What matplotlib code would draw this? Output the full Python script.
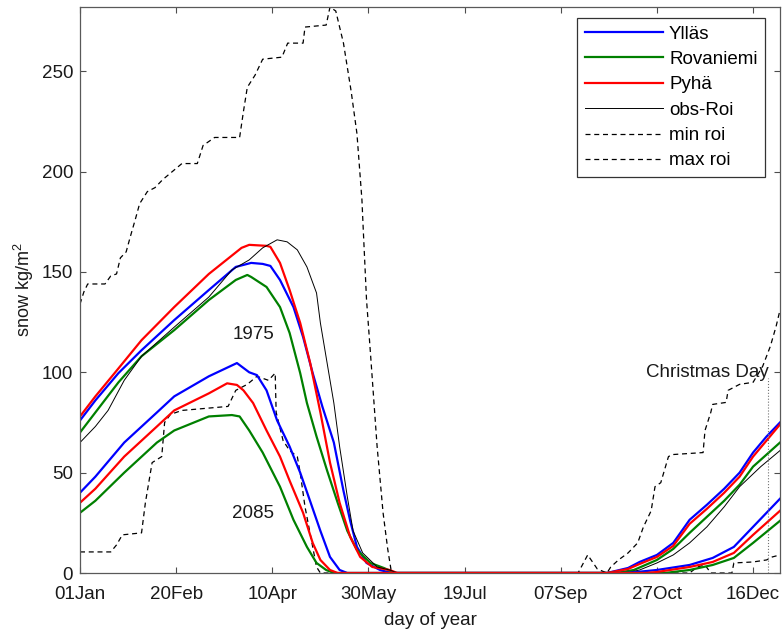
import matplotlib
matplotlib.use('Agg')
import matplotlib.pyplot as plt

plt.rcParams['font.family'] = ['Liberation Sans', 'DejaVu Sans']
plt.rcParams['mathtext.fontset'] = 'custom'
plt.rcParams['mathtext.rm'] = 'Liberation Sans'
plt.rcParams['mathtext.it'] = 'Liberation Sans'

# x tick positions (day of a leap year) and their labels
tick_days = [1, 51, 101, 151, 201, 251, 301, 351]
tick_labels = ['01Jan', '20Feb', '10Apr', '30May', '19Jul', '07Sep', '27Oct', '16Dec']

# 1975 runs
yllas_days = [1, 9, 21, 33, 50, 68, 82, 90, 96, 100, 105, 112, 117, 122, 127, 133, 138, 141.5, 145, 150, 157, 163,
              275, 286, 292, 301, 309.5, 318, 327, 336, 344, 351, 358, 365]
yllas_snow = [76, 86, 99.6, 111, 126, 141, 152.5, 154.5, 154, 153, 146, 132.5, 117.6, 99.6, 83, 65, 41, 26, 13, 5, 1.5, 0,
              0, 2.5, 5.5, 9, 15, 26.5, 34, 42, 50, 60, 68, 75]

rova_days = [1, 9, 21, 33, 50, 68, 82, 88, 90, 98, 105, 110, 115.5, 119, 124, 129.5, 135, 140, 145, 152, 159, 165,
             280, 289, 301, 309.5, 318, 327, 336, 344, 351, 358, 365]
rova_snow = [70, 80, 95, 108, 121, 136, 146, 148.5, 147.5, 142.5, 132.5, 119.6, 99.6, 84.7, 68, 51, 35, 21, 11.5, 5, 2.5, 0,
             0, 1.5, 6.5, 12, 20, 28, 36, 44, 53, 59, 65]

pyha_days = [1, 9, 19, 33, 50, 68, 85, 89, 98, 100, 105, 110, 115.5, 120.7, 126, 131, 136, 141.5, 146.7, 153, 162, 166,
             275, 286, 292, 301, 309.5, 318, 327, 336, 344, 351, 358, 365]
pyha_snow = [78, 88, 99.6, 116, 132.5, 149, 162, 163.5, 163, 162.5, 154.5, 141, 124.6, 104.6, 80, 55, 35, 18, 8, 3, 1.5, 0,
             0, 2, 4.5, 8, 13.5, 24.5, 32, 40, 48, 58, 66, 74]

# observations at Rovaniemi
obs_days = [1, 9, 15.6, 24, 33, 50, 68, 80, 89, 96, 103.5, 108.7, 114, 119, 124, 126, 129.5, 133, 136, 140, 143, 148,
            155.5, 162, 166, 285, 292, 301, 309.5, 318, 327, 336, 344, 355, 365]
obs_snow = [65, 73, 81, 96, 108, 122.5, 137.5, 151, 156, 162, 166, 165, 161, 152.5, 139.5, 124.6, 104.6, 84.7, 63, 38, 21, 10,
            3, 1.5, 0, 0, 1.5, 5, 9, 15, 23, 33, 43, 53, 61]

min_days = [1, 17, 20, 23, 33, 35, 38.5, 43.5, 45, 48, 54, 78, 82, 88, 93, 99, 102.5, 103, 106.6, 110, 114, 115.5, 118,
            120.6, 124, 126, 318, 322, 326, 329, 340, 341, 351, 358, 361, 365]
min_snow = [10.5, 10.5, 14, 19, 20, 35, 55, 58, 75, 79, 81, 83, 91, 94, 98, 96, 99.6, 80, 66, 61, 58, 50, 33,
            20, 3, 0, 0, 3, 4, 0, 0, 5, 5.5, 6.5, 8, 9]

max_days = [1, 3, 5, 14, 17, 20, 22, 25, 27, 30, 32, 36, 40, 44, 49, 54, 62, 65, 71, 84, 86, 88, 92, 96, 106, 109, 117,
            118, 129, 131, 134, 138, 142, 145, 147.6, 148.3, 150, 152, 155.5, 158.6, 161, 163,
            260, 265, 270, 275, 277, 281, 286, 291, 294, 298, 300, 303, 307, 309, 325, 326, 329, 330, 337, 338, 344,
            351, 356, 360, 363, 365]
max_snow = [134, 140, 144, 144, 148, 149, 157, 160, 167, 177, 184, 190, 192, 196, 200, 204, 204, 213, 217, 217, 230, 242,
            248, 256, 257, 264, 264, 272, 273, 282, 280, 264, 240, 219, 186, 171, 136, 110, 63, 30, 12, 0,
            0, 9, 2, 0, 3, 6.5, 10, 15, 23, 31, 43, 45, 58, 59, 60, 71, 80, 84, 85, 91, 94,
            95, 103, 113, 123, 131]

# 2085 runs
yllas85_days = [1, 9, 24, 41, 50, 68, 82.6, 89, 93, 98, 103.5, 110, 115.5, 120.6, 126, 131, 136, 140,
                285, 301, 318, 330, 341, 351, 365]
yllas85_snow = [40, 48, 65, 80, 88, 98, 104.6, 100, 98.6, 91, 76, 63, 50, 36, 21, 8, 1.5, 0,
                0, 1.5, 4, 7.5, 13, 23, 37]

rova85_days = [1, 9, 24, 41, 50, 68, 80, 84, 89, 96, 105, 112, 119, 124, 129, 133,
               305, 318, 330, 341, 351, 365]
rova85_snow = [30, 36, 50, 65, 71, 78, 78.7, 78, 71, 60, 43, 26.5, 13, 5, 1.5, 0,
               0, 1.5, 4, 7.5, 15, 26]

pyha85_days = [1, 9, 24, 41, 50, 68, 77.5, 82.6, 86, 91, 98, 105, 110, 117, 122, 126, 131, 135,
               295, 301, 318, 330, 341, 351, 365]
pyha85_snow = [35, 42, 58, 73, 81, 89.5, 94.5, 93.7, 91, 84.7, 71, 58, 46, 30, 15, 6.5, 1.5, 0,
               0, 0.5, 3, 5.5, 10, 19, 31]

all_days = [1, 365]
xmas_day = 359
xmas_top = 97

blue = (0, 0, 1)
green = (0, 0.5, 0)
red = (1, 0, 0)

fig = plt.figure(figsize=(7.83, 6.31), dpi=100)
ax = fig.add_axes([80 / 783, 1 - 573 / 631, 700 / 783, 566 / 631])

ax.plot(yllas_days, yllas_snow, color=blue, lw=1.6, label='Ylläs')
ax.plot(rova_days, rova_snow, color=green, lw=1.6, label='Rovaniemi')
ax.plot(pyha_days, pyha_snow, color=red, lw=1.6, label='Pyhä')
ax.plot(obs_days, obs_snow, color='k', lw=0.7, label='obs-Roi')
ax.plot(min_days, min_snow, color='k', lw=0.9, ls=(0, (4, 3)), label='min roi')
ax.plot(max_days, max_snow, color='k', lw=0.9, ls=(0, (4, 3)), label='max roi')

ax.plot(yllas85_days, yllas85_snow, color=blue, lw=1.6)
ax.plot(rova85_days, rova85_snow, color=green, lw=1.6)
ax.plot(pyha85_days, pyha85_snow, color=red, lw=1.6)

# Christmas day marker
ax.plot([xmas_day, xmas_day], [0, xmas_top], color='0.45', lw=0.8, ls=':')
ax.text(xmas_day, 100, 'Christmas Day', ha='right', va='center', fontsize=13.5, color='0.1')

ax.text(91, 119, '1975', ha='center', va='center', fontsize=13.5, color='0.1')
ax.text(91, 29.5, '2085', ha='center', va='center', fontsize=13.5, color='0.1')

ax.set_xlim(all_days[0], all_days[1])
ax.set_ylim(0, 282)
ax.set_xticks(tick_days)
ax.set_xticklabels(tick_labels)
ax.set_yticks([0, 50, 100, 150, 200, 250])

ax.tick_params(direction='in', length=4, width=0.8, top=True, right=True,
               labelsize=13.5, labelcolor='0.1', color='0.3')
ax.tick_params(axis='x', pad=9.5)
ax.tick_params(axis='y', pad=5)
for s in ax.spines.values():
    s.set_color('0.35')
    s.set_linewidth(0.9)

ax.set_xlabel('day of year', fontsize=13.5, color='0.1', labelpad=6)
ax.set_ylabel('snow kg/m$^2$', fontsize=13, color='0.1', labelpad=4)

leg = ax.legend(loc='upper right', bbox_to_anchor=((765 - 80) / 700, (573 - 18) / 566), borderaxespad=0,
                fontsize=13.5, frameon=True, fancybox=False, framealpha=1, edgecolor='0.2',
                handlelength=4.2, handletextpad=0.3, borderpad=0.4, labelspacing=0.44)
leg.get_frame().set_linewidth(0.9)

fig.savefig('out.png', dpi=100)
